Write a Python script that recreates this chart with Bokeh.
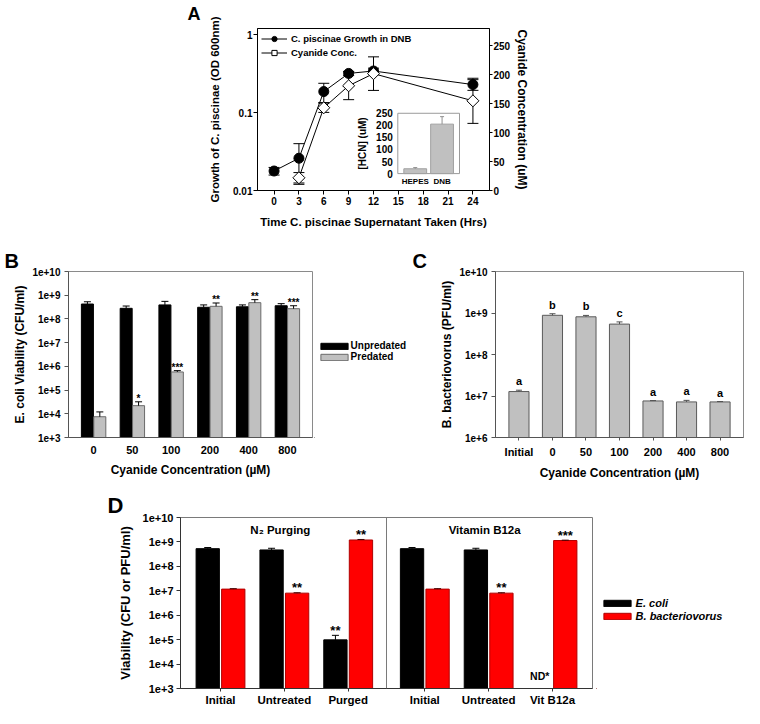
import math
from bokeh.plotting import figure
from bokeh.models import (ColumnDataSource, Range1d, FactorRange, LinearAxis, LinearScale,
                          FixedTicker, CustomJSTickFormatter, Legend, LegendItem, Span, Spacer)
from bokeh.layouts import row, column
from bokeh.transform import dodge
from bokeh.core.properties import value
from bokeh.embed import file_html
from bokeh.resources import INLINE

FONT = "Liberation Sans"

# ---------------- Panel A data ----------------
a_hours = [0, 3, 6, 9, 12, 24]
a_growth = [0.0178, 0.026, 0.187, 0.32, 0.344, 0.23]
a_growth_err = [0.002, 0.014, 0.052, 0.02, 0.03, 0.036]
a_cn_hours = [3, 6, 9, 12, 24]
a_cn = [22, 143, 181, 202, 155]
a_cn_err = [9, 8, 24, 29, 39]
a_x_ticks = [0, 3, 6, 9, 12, 15, 18, 21, 24]
a_y_ticks = [0.01, 0.1, 1]
a_cn_ticks = [0, 50, 100, 150, 200, 250]

inset_media = ["HEPES", "DNB"]
inset_hcn = [20, 205]
inset_hcn_err = [5, 31]
inset_ticks = [0, 50, 100, 150, 200, 250]

# ---------------- Panel B data ----------------
b_conc = ["0", "50", "100", "200", "400", "800"]
b_unpred = [4.25e8, 2.8e8, 3.9e8, 3.1e8, 3.25e8, 3.6e8]
b_unpred_err = [1.05e8, 0.7e8, 1.6e8, 0.8e8, 0.65e8, 0.8e8]
b_pred = [7.5e3, 2.2e4, 5.8e5, 3.4e8, 4.85e8, 2.7e8]
b_pred_err = [4.5e3, 1.0e4, 0.8e5, 1.3e8, 1.65e8, 0.9e8]
b_stars = ["", "*", "***", "**", "**", "***"]
b_ticks = [1e3, 1e4, 1e5, 1e6, 1e7, 1e8, 1e9, 1e10]

# ---------------- Panel C data ----------------
c_cat = ["Initial", "0", "50", "100", "200", "400", "800"]
c_bdello = [1.28e7, 8.8e8, 8.1e8, 5.4e8, 7.6e6, 7.2e6, 7.2e6]
c_err = [0.1e7, 0.8e8, 0.65e8, 0.7e8, 0.15e6, 0.65e6, 0.15e6]
c_letters = ["a", "b", "b", "c", "a", "a", "a"]
c_ticks = [1e6, 1e7, 1e8, 1e9, 1e10]

# ---------------- Panel D data ----------------
d_groups = ["N\u2082 Purging", "Vitamin B12a"]
d_treat = [["Initial", "Untreated", "Purged"], ["Initial", "Untreated", "Vit B12a"]]
d_ecoli = [5.3e8, 4.7e8, 9.8e4, 5.3e8, 4.7e8, float("nan")]
d_ecoli_err = [0.6e8, 0.8e8, 5.2e4, 0.6e8, 0.8e8, float("nan")]
d_bdello = [1.17e7, 8.0e6, 1.2e9, 1.17e7, 8.0e6, 1.14e9]
d_bdello_err = [0.05e7, 0.03e7, 0.06e9, 0.05e7, 0.03e7, 0.04e9]
d_ecoli_stars = ["", "", "**", "", "", ""]
d_bdello_stars = ["", "**", "**", "", "**", "***"]
d_ticks = [1e3, 1e4, 1e5, 1e6, 1e7, 1e8, 1e9, 1e10]

LOG_FMT = CustomJSTickFormatter(code="return '1e+' + Math.round(Math.log10(tick));")


def make_fig(**kw):
    p = figure(output_backend="svg", toolbar_location=None, **kw)
    p.xgrid.grid_line_color = None
    p.ygrid.grid_line_color = None
    p.background_fill_color = "white"
    p.border_fill_color = "white"
    return p


def style_axis(ax, tick_size, label_size, tick_out=4, lab_so=2, axl_so=5, color="black"):
    ax.major_label_text_font = FONT
    ax.major_label_text_font_style = "bold"
    ax.major_label_text_font_size = tick_size
    ax.major_label_text_color = "black"
    ax.axis_label_text_font = FONT
    ax.axis_label_text_font_style = "bold"
    ax.axis_label_text_font_size = label_size
    ax.axis_label_text_color = "black"
    ax.major_tick_in = 0
    ax.major_tick_out = tick_out
    ax.minor_tick_line_color = None
    ax.major_label_standoff = lab_so
    ax.axis_label_standoff = axl_so
    ax.axis_line_color = color
    ax.major_tick_line_color = color


def letter(p, txt, offset, size, standoff=0, valign="bottom"):
    p.title.text = txt
    p.title.align = "left"
    p.title.vertical_align = valign
    p.title.offset = offset
    p.title.standoff = standoff
    p.title.text_font = FONT
    p.title.text_font_style = "bold"
    p.title.text_font_size = size
    p.title.text_color = "black"


def err_bars(p, x, lo, hi, src, color, cap, both=False, **kw):
    p.segment(x0=x, y0=lo, x1=x, y1=hi, source=src, line_color=color, line_width=1, **kw)
    p.scatter(x=x, y=hi, marker="dash", size=cap, line_color=color, line_width=1,
              source=src, **kw)
    if both:
        p.scatter(x=x, y=lo, marker="dash", size=cap, line_color=color, line_width=1,
                  source=src, **kw)


def up_list(v, e):
    return [a + b for a, b in zip(v, e)]


def lo_list(v, e):
    return [a - b for a, b in zip(v, e)]


def bold_text(p, **kw):
    kw.setdefault("text_color", "black")
    return p.text(text_font=value(FONT), text_font_style="bold", **kw)


def legend_fig(width, height, entries, loc, font_style, font_size, spacing, standoff):
    """A bare canvas (no axes) that only carries a legend, placed beside a panel.
    Its swatch renderers hold a single placeholder outside the visible range."""
    q = figure(output_backend="svg", toolbar_location=None, width=width, height=height,
               x_range=Range1d(0, 1), y_range=Range1d(0, 1), x_axis_location=None,
               y_axis_location=None, title_location=None, min_border=0,
               min_border_left=0, min_border_right=0, min_border_top=0, min_border_bottom=0)
    q.grid.grid_line_color = None
    q.outline_line_color = None
    q.background_fill_color = "white"
    q.border_fill_color = "white"
    hidden = ColumnDataSource(dict(x=[-5.0], top=[-5.0], bottom=[-6.0]))
    items = []
    for label, fill, line in entries:
        r = q.vbar(x="x", top="top", bottom="bottom", width=0.5, source=hidden,
                   fill_color=fill, line_color=line)
        items.append(LegendItem(label=label, renderers=[r]))
    q.add_layout(Legend(items=items, location=loc, margin=0, padding=0, spacing=spacing,
                        glyph_width=34, glyph_height=8, label_height=10,
                        label_standoff=standoff, label_text_font=FONT,
                        label_text_font_style=font_style, label_text_font_size=font_size,
                        label_text_color="black",
                        background_fill_alpha=0, border_line_color=None))
    return q


# ================= Panel A =================
A_W, A_H, A_L, A_R, A_T, A_B = 380, 240, 89, 59, 27, 50
pA = make_fig(width=A_W, height=A_H, x_range=Range1d(-2, 26), y_range=Range1d(0.01, 1.21),
              y_axis_type="log", min_border_left=A_L, min_border_right=A_R,
              min_border_top=A_T, min_border_bottom=A_B)
pA.outline_line_color = "black"

# inset box (pixels inside panel A's frame) and its own value ranges
FW, FH = A_W - A_L - A_R, A_H - A_T - A_B
IN_LEFT, IN_WIDTH, IN_BOTTOM, IN_HEIGHT = 140.3, 61.7, 17.0, 60.7
ix_lo, ix_hi = -0.65, len(inset_media) - 1 + 0.65
iy_lo, iy_hi = inset_ticks[0], inset_ticks[-1]
upx = (ix_hi - ix_lo) / IN_WIDTH
upy = (iy_hi - iy_lo) / IN_HEIGHT
pA.extra_x_ranges = {"ix": Range1d(ix_lo - IN_LEFT * upx, ix_hi + (FW - IN_LEFT - IN_WIDTH) * upx)}
pA.extra_y_ranges = {"cn": Range1d(0, 280),
                     "iy": Range1d(iy_lo - IN_BOTTOM * upy, iy_hi + (FH - IN_BOTTOM - IN_HEIGHT) * upy)}
pA.extra_x_scales = {"ix": LinearScale()}
pA.extra_y_scales = {"cn": LinearScale(), "iy": LinearScale()}

src_g = ColumnDataSource(dict(x=a_hours, y=a_growth, lo=lo_list(a_growth, a_growth_err),
                              up=up_list(a_growth, a_growth_err)))
src_c = ColumnDataSource(dict(x=a_cn_hours, y=a_cn, lo=lo_list(a_cn, a_cn_err),
                              up=up_list(a_cn, a_cn_err)))
err_bars(pA, "x", "lo", "up", src_g, "black", 11, both=True)
err_bars(pA, "x", "lo", "up", src_c, "black", 11, both=True, y_range_name="cn")
lg = pA.line("x", "y", source=src_g, line_color="black", line_width=1)
sg = pA.scatter("x", "y", source=src_g, marker="circle", size=10,
                fill_color="black", line_color="black")
lc = pA.line("x", "y", source=src_c, line_color="black", line_width=1, y_range_name="cn")
sc = pA.scatter("x", "y", source=src_c, marker="square", angle=math.pi / 4, size=8.5,
                fill_color="white", line_color="black", y_range_name="cn")

# ---- inset drawn on the inset ranges ----
ikw = dict(x_range_name="ix", y_range_name="iy")
pA.quad(left=ix_lo, right=ix_hi, bottom=iy_lo, top=iy_hi, fill_color="white",
        line_color="#9a9a9a", **ikw)
src_i = ColumnDataSource(dict(x=list(range(len(inset_media))), top=inset_hcn,
                              up=up_list(inset_hcn, inset_hcn_err), lab=inset_media))
pA.vbar(x="x", top="top", bottom=iy_lo, width=0.85, source=src_i,
        fill_color="#c0c0c0", line_color="#a0a0a0", **ikw)
err_bars(pA, "x", "top", "up", src_i, "#909090", 4, **ikw)
src_it = ColumnDataSource(dict(y=inset_ticks, t=[str(t) for t in inset_ticks]))
bold_text(pA, x=ix_lo, y="y", text="t", source=src_it, text_align="right",
          text_baseline="middle", x_offset=-5, text_font_size="10px", **ikw)
bold_text(pA, x="x", y=iy_lo, text="lab", source=src_i, text_align="center",
          text_baseline="top", y_offset=3, text_font_size="8px", **ikw)
bold_text(pA, x=[ix_lo], y=[(iy_lo + iy_hi) / 2], text=["[HCN] (uM)"], angle=math.pi / 2,
          text_align="center", text_baseline="middle", x_offset=-35,
          text_font_size="10px", **ikw)

pA.xaxis.ticker = FixedTicker(ticks=a_x_ticks)
pA.yaxis.ticker = FixedTicker(ticks=a_y_ticks)
pA.yaxis.formatter = CustomJSTickFormatter(code="return tick.toString();")
pA.xaxis.axis_label = "Time C. piscinae Supernatant Taken (Hrs)"
pA.yaxis.axis_label = "Growth of C. piscinae (OD 600nm)"
style_axis(pA.xaxis[0], "10px", "11.5px", tick_out=4, lab_so=2, axl_so=8)
style_axis(pA.yaxis[0], "10px", "11.5px", tick_out=4, lab_so=1, axl_so=9)
ra = LinearAxis(y_range_name="cn", ticker=FixedTicker(ticks=a_cn_ticks),
                axis_label="Cyanide Concentration (uM)")
style_axis(ra, "10px", "12px", tick_out=3, lab_so=1, axl_so=2)
pA.add_layout(ra, "right")

legA = Legend(items=[LegendItem(label="C. piscinae Growth in DNB", renderers=[lg, sg]),
                     LegendItem(label="Cyanide Conc.", renderers=[lc, sc])],
              location="top_left", margin=4, padding=0, spacing=1,
              glyph_width=26, glyph_height=13, label_height=13, label_standoff=4,
              label_text_font=FONT, label_text_font_style="bold", label_text_font_size="9.5px",
              label_text_color="black", background_fill_alpha=0, border_line_color=None)
pA.add_layout(legA)
letter(pA, "A", -70, "18px", 6, valign="top")

row1 = row(Spacer(width=168, height=A_H), pA)

# ================= Panel B =================
R2_H = 242
b_ymin, b_ymax = b_ticks[0], b_ticks[-1]
pB = make_fig(width=314, height=R2_H,
              x_range=FactorRange(factors=b_conc, range_padding=0.148,
                                  range_padding_units="absolute"),
              y_range=Range1d(b_ymin, b_ymax), y_axis_type="log",
              min_border_left=68, min_border_right=2, min_border_top=31, min_border_bottom=42)
pB.outline_line_color = "#8a8a8a"
srcB = ColumnDataSource(dict(x=b_conc, unpred=b_unpred, unpred_up=up_list(b_unpred, b_unpred_err),
                             pred=b_pred, pred_up=up_list(b_pred, b_pred_err), stars=b_stars))
xu = dodge("x", -0.16, range=pB.x_range)
xp = dodge("x", 0.16, range=pB.x_range)
pB.vbar(x=xu, top="unpred", bottom=b_ymin, width=0.31, source=srcB,
        fill_color="black", line_color="black")
pB.vbar(x=xp, top="pred", bottom=b_ymin, width=0.31, source=srcB,
        fill_color="#c0c0c0", line_color="#6a6a6a")
err_bars(pB, xu, "unpred", "unpred_up", srcB, "black", 7)
err_bars(pB, xp, "pred", "pred_up", srcB, "black", 7)
bold_text(pB, x=xp, y="pred_up", text="stars", source=srcB, text_align="center",
          text_baseline="alphabetic", y_offset=-3, text_font_size="10px")
pB.yaxis.ticker = FixedTicker(ticks=b_ticks)
pB.yaxis.formatter = LOG_FMT
pB.yaxis.axis_label = "E. coli Viability (CFU/ml)"
pB.xaxis.axis_label = "Cyanide Concentration (\u00b5M)"
style_axis(pB.yaxis[0], "10px", "12px", tick_out=4, lab_so=4, axl_so=2, color="#555555")
style_axis(pB.xaxis[0], "11px", "12px", tick_out=0, lab_so=8, axl_so=6, color="#555555")
letter(pB, "B", -64, "20px", 0)

pLegB = legend_fig(96, R2_H, [("Unpredated", "black", "black"),
                              ("Predated", "#c0c0c0", "#6a6a6a")],
                   (2.6, 75), "bold", "10px", 0, 0)

# ================= Panel C =================
c_ymin, c_ymax = c_ticks[0], c_ticks[-1]
pC = make_fig(width=334, height=R2_H,
              x_range=FactorRange(factors=c_cat, range_padding=0.2,
                                  range_padding_units="absolute"),
              y_range=Range1d(c_ymin, c_ymax), y_axis_type="log",
              min_border_left=85, min_border_right=1, min_border_top=29, min_border_bottom=42)
pC.outline_line_color = "#8a8a8a"
srcC = ColumnDataSource(dict(x=c_cat, top=c_bdello, up=up_list(c_bdello, c_err), lab=c_letters))
pC.vbar(x="x", top="top", bottom=c_ymin, width=0.6, source=srcC,
        fill_color="#c0c0c0", line_color="#5a5a5a")
err_bars(pC, "x", "top", "up", srcC, "#505050", 6)
bold_text(pC, x="x", y="up", text="lab", source=srcC, text_align="center",
          text_baseline="alphabetic", y_offset=-9, text_font_size="11px")
pC.yaxis.ticker = FixedTicker(ticks=c_ticks)
pC.yaxis.formatter = LOG_FMT
pC.yaxis.axis_label = "B. bacteriovorus (PFU/ml)"
pC.xaxis.axis_label = "Cyanide Concentration (\u00b5M)"
style_axis(pC.yaxis[0], "10px", "12px", tick_out=4, lab_so=4, axl_so=2, color="#555555")
style_axis(pC.xaxis[0], "11px", "12px", tick_out=3, lab_so=5, axl_so=5, color="#555555")
letter(pC, "C", -83, "20px", 0)

row2 = row(pB, pLegB, pC)

# ================= Panel D =================
R3_H = 226
d_factors = [(g, t) for g, ts in zip(d_groups, d_treat) for t in ts]
d_gpad = 0.2
d_ymin, d_ymax = d_ticks[0], d_ticks[-1]
pD = make_fig(width=596, height=R3_H,
              x_range=FactorRange(factors=d_factors, group_padding=d_gpad, factor_padding=0,
                                  range_padding=0.1265, range_padding_units="absolute"),
              y_range=Range1d(d_ymin, d_ymax), y_axis_type="log",
              min_border_left=180, min_border_right=4, min_border_top=35, min_border_bottom=20)
pD.outline_line_color = "#7a7a7a"
srcD = ColumnDataSource(dict(x=d_factors, ec=d_ecoli, ec_up=up_list(d_ecoli, d_ecoli_err),
                             bd=d_bdello, bd_up=up_list(d_bdello, d_bdello_err),
                             ec_st=d_ecoli_stars, bd_st=d_bdello_stars))
xe = dodge("x", -0.2, range=pD.x_range)
xb = dodge("x", 0.2, range=pD.x_range)
pD.vbar(x=xe, top="ec", bottom=d_ymin, width=0.365, source=srcD,
        fill_color="black", line_color="black")
pD.vbar(x=xb, top="bd", bottom=d_ymin, width=0.365, source=srcD,
        fill_color="#ff0000", line_color="#b00000")
err_bars(pD, xe, "ec", "ec_up", srcD, "black", 7)
err_bars(pD, xb, "bd", "bd_up", srcD, "#400000", 7)
star_kw = dict(source=srcD, text_align="center", text_baseline="alphabetic", y_offset=-5,
               text_font_size="13px")
bold_text(pD, x=xe, y="ec_up", text="ec_st", **star_kw)
bold_text(pD, x=xb, y="bd_up", text="bd_st", **star_kw)

hdr = ColumnDataSource(dict(x=[(g, ts[len(ts) // 2]) for g, ts in zip(d_groups, d_treat)],
                            text=d_groups))
bold_text(pD, x="x", y=d_ymax, text="text", source=hdr, text_align="center",
          text_baseline="middle", y_offset=12, x_offset=-4, text_font_size="11.5px")
nd = ColumnDataSource(dict(x=[f for f, v in zip(d_factors, d_ecoli) if v != v],
                           text=["ND*" for v in d_ecoli if v != v]))
bold_text(pD, x=dodge("x", -0.2, range=pD.x_range), y=d_ymin, text="text", source=nd,
          text_align="center", text_baseline="middle", y_offset=-13, text_font_size="10.5px")
pD.add_layout(Span(location=len(d_treat[0]) + d_gpad / 2, dimension="height",
                   line_color="#7a7a7a", line_width=1))

pD.yaxis.ticker = FixedTicker(ticks=d_ticks)
pD.yaxis.formatter = LOG_FMT
pD.yaxis.axis_label = "Viability (CFU or PFU/ml)"
style_axis(pD.yaxis[0], "11px", "13px", tick_out=4, lab_so=3, axl_so=7, color="#333333")
style_axis(pD.xaxis[0], "11.5px", "12px", tick_out=3, lab_so=2, axl_so=0, color="#333333")
pD.xaxis.group_text_font_size = "0px"
pD.xaxis.group_text_color = None
pD.xaxis.separator_line_color = None
letter(pD, "D", -73, "22px", 0)

pLegD = legend_fig(148, R3_H, [("E. coli", "black", "black"),
                               ("B. bacteriovorus", "#ff0000", "#b00000")],
                   (3.6, 66.5), "bold italic", "11px", 1, 2)

row3 = row(pD, pLegD)

layout = column(row1, row2, row3)
open("out.html", "w").write(file_html(layout, INLINE))
